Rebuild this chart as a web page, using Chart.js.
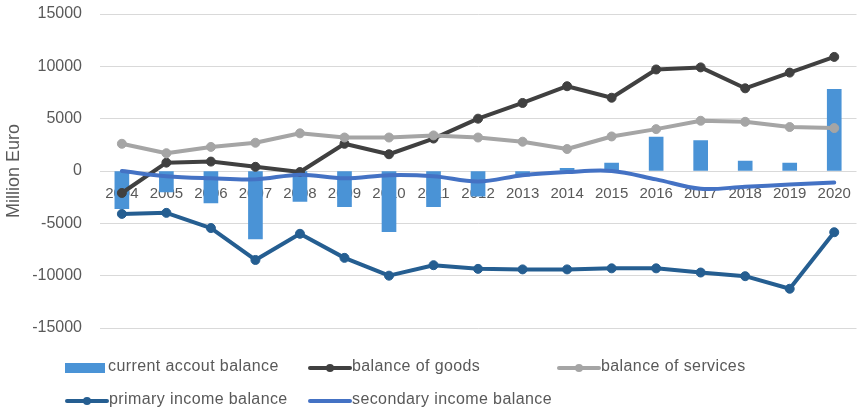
<!DOCTYPE html>
<html>
<head>
<meta charset="utf-8">
<script src="https://cdn.jsdelivr.net/npm/chart.js@4.4.1/dist/chart.umd.min.js"></script>
<style>
html,body{margin:0;padding:0;background:#ffffff;}
#wrap{width:862px;height:412px;position:relative;}
</style>
</head>
<body>
<div id="wrap"><canvas id="c" width="862" height="412"></canvas></div>
<script>
const years = ['2004','2005','2006','2007','2008','2009','2010','2011','2012','2013','2014','2015','2016','2017','2018','2019','2020'];
const currentAccount = [-3600,-2000,-3050,-6500,-2900,-3400,-5800,-3400,-2400,-500,250,750,3250,2900,950,750,7800];
const goods = [-2100,800,900,400,-100,2600,1600,3100,5000,6500,8100,7000,9700,9900,7900,9400,10900];
const services = [2600,1700,2300,2700,3600,3200,3200,3400,3200,2800,2100,3300,4000,4800,4700,4200,4100];
const primaryIncome = [-4100,-4000,-5450,-8500,-6000,-8300,-10000,-9000,-9350,-9400,-9400,-9300,-9300,-9700,-10050,-11250,-5850];
const secondaryIncome = [0,-500,-700,-800,-350,-700,-400,-500,-1000,-400,-100,0,-800,-1700,-1500,-1300,-1100];
const yTicks = [-15000,-10000,-5000,0,5000,10000,15000];
const seriesNames = ['current accout balance','balance of goods','balance of services','primary income balance','secondary income balance'];

const FONT = '"Liberation Sans", Arial, sans-serif';
const TEXT = '#595959';

const legendPlugin = {
  id: 'excelLegend',
  afterDraw(chart) {
    const ctx = chart.ctx;
    const slots = [{x:65,y:368},{x:308,y:368},{x:557,y:368},{x:65,y:401},{x:308,y:401}];
    ctx.save();
    chart.data.datasets.forEach((ds, i) => {
      const s = slots[i];
      let tx;
      if (ds.type === 'bar') {
        ctx.fillStyle = ds.backgroundColor;
        ctx.fillRect(s.x, s.y - 5, 40, 10);
        tx = s.x + 43;
      } else {
        ctx.strokeStyle = ds.borderColor;
        ctx.lineWidth = 4;
        ctx.lineCap = 'round';
        ctx.beginPath();
        ctx.moveTo(s.x + 2, s.y);
        ctx.lineTo(s.x + 42, s.y);
        ctx.stroke();
        if (ds.pointRadius > 0) {
          ctx.fillStyle = ds.borderColor;
          ctx.beginPath();
          ctx.arc(s.x + 22, s.y, 4, 0, Math.PI * 2);
          ctx.fill();
        }
        tx = s.x + 44;
      }
      ctx.font = '16px ' + FONT;
      try { ctx.letterSpacing = '0.4px'; } catch (e) {}
      ctx.textBaseline = 'middle';
      ctx.textAlign = 'left';
      ctx.fillStyle = TEXT;
      ctx.fillText(ds.label, tx, s.y - 1.5);
      try { ctx.letterSpacing = '0px'; } catch (e) {}
    });
    ctx.restore();
  }
};

const lineCommon = {
  type: 'line',
  borderWidth: 4,
  pointRadius: 4.5,
  pointHoverRadius: 4.5,
  pointBorderWidth: 1,
  tension: 0,
  borderJoinStyle: 'round',
  borderCapStyle: 'round',
  fill: false
};

new Chart(document.getElementById('c'), {
  type: 'bar',
  data: {
    labels: years,
    datasets: [
      { type: 'bar', label: seriesNames[0], data: currentAccount, backgroundColor: '#4A93D6', barThickness: 14, order: 10 },
      Object.assign({}, lineCommon, { label: seriesNames[1], data: goods, borderColor: '#404040', backgroundColor: '#404040', pointBackgroundColor: '#404040', pointBorderColor: '#404040', order: 4 }),
      Object.assign({}, lineCommon, { label: seriesNames[2], data: services, borderColor: '#A5A5A5', backgroundColor: '#A5A5A5', pointBackgroundColor: '#A5A5A5', pointBorderColor: '#A5A5A5', order: 3 }),
      Object.assign({}, lineCommon, { label: seriesNames[3], data: primaryIncome, borderColor: '#255E91', backgroundColor: '#255E91', pointBackgroundColor: '#255E91', pointBorderColor: '#255E91', order: 2 }),
      Object.assign({}, lineCommon, { label: seriesNames[4], data: secondaryIncome, borderColor: '#4472C4', backgroundColor: '#4472C4', pointRadius: 0, pointHoverRadius: 0, tension: 0.35, order: 1 })
    ]
  },
  options: {
    responsive: false,
    animation: false,
    devicePixelRatio: 1,
    layout: { padding: { top: 14, right: 1.5, bottom: 84, left: 0 } },
    plugins: {
      legend: { display: false },
      tooltip: { enabled: false }
    },
    scales: {
      x: {
        type: 'category',
        offset: true,
        position: { y: 0 },
        afterFit: (s) => { s.paddingLeft = 0; s.paddingRight = 0; },
        grid: { display: false, drawTicks: false },
        border: { display: false },
        ticks: { color: TEXT, font: { family: FONT, size: 15 }, padding: 14, maxRotation: 0, autoSkip: false }
      },
      y: {
        min: -15000,
        max: 15000,
        afterBuildTicks: (s) => { s.ticks = yTicks.map(v => ({ value: v })); },
        afterFit: (s) => { s.width = 99.6; s.paddingTop = 0; s.paddingBottom = 0; },
        grid: { color: '#D9D9D9', lineWidth: 1, drawTicks: false },
        border: { display: false },
        ticks: { color: TEXT, font: { family: FONT, size: 16 }, padding: 17.6, callback: (v) => String(v) },
        title: { display: true, text: 'Million Euro', color: TEXT, font: { family: FONT, size: 18 }, padding: { top: 3, bottom: 0 } }
      }
    }
  },
  plugins: [legendPlugin]
});
</script>
</body>
</html>
